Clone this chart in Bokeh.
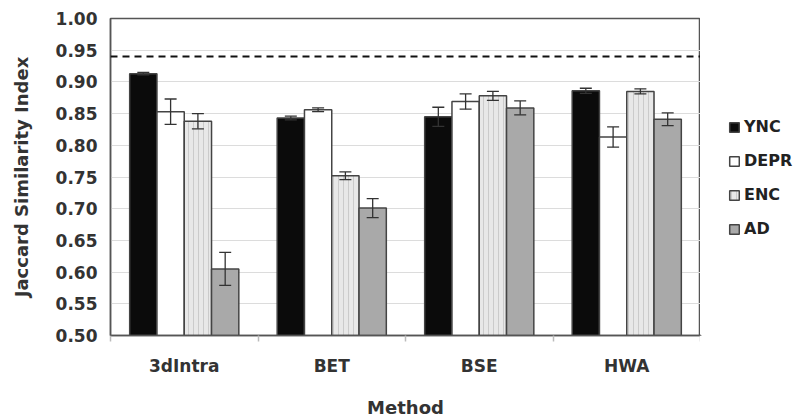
from bokeh.plotting import figure
from bokeh.layouts import row
from bokeh.models import (ColumnDataSource, Whisker, Span, Legend, LegendItem,
                          FixedTicker, TeeHead, NumeralTickFormatter)
from bokeh.embed import file_html
from bokeh.resources import INLINE

methods = ["3dIntra", "BET", "BSE", "HWA"]
groups = ["YNC", "DEPR", "ENC", "AD"]

ync = [0.913, 0.843, 0.845, 0.886]
ync_err = [0.002, 0.003, 0.015, 0.004]
depr = [0.853, 0.856, 0.869, 0.813]
depr_err = [0.020, 0.003, 0.012, 0.016]
enc = [0.838, 0.752, 0.878, 0.885]
enc_err = [0.012, 0.006, 0.007, 0.004]
ad = [0.605, 0.701, 0.859, 0.841]
ad_err = [0.026, 0.015, 0.011, 0.010]
reference_level = 0.94

y_ticks = [0.50, 0.55, 0.60, 0.65, 0.70, 0.75, 0.80, 0.85, 0.90, 0.95, 1.00]

series = [
    ("YNC", ync, ync_err, dict(fill_color="#0b0b0b")),
    ("DEPR", depr, depr_err, dict(fill_color="#ffffff")),
    ("ENC", enc, enc_err, dict(fill_color="#e8e8e8", hatch_pattern="|",
                               hatch_color="#c4c4c4", hatch_alpha=0.8, hatch_scale=5,
                               hatch_weight=1)),
    ("AD", ad, ad_err, dict(fill_color="#a9a9a9")),
]

FONT = "DejaVu Sans"
bar_w = 0.185
offsets = [-1.5 * bar_w, -0.5 * bar_w, 0.5 * bar_w, 1.5 * bar_w]

p = figure(width=700, height=420, x_range=(0, 4), y_range=(0.5, 1.0),
           output_backend="svg", toolbar_location=None,
           min_border_left=110, min_border_right=0, min_border_top=18,
           min_border_bottom=85)

p.outline_line_color = "#555555"
p.outline_line_width = 1.5
p.xgrid.grid_line_color = None
p.ygrid.grid_line_color = "#dcdcdc"
p.ygrid.grid_line_width = 1

p.yaxis.ticker = FixedTicker(ticks=y_ticks)
p.yaxis.formatter = NumeralTickFormatter(format="0.00")
centers = [i + 0.5 for i in range(len(methods))]
p.xaxis.ticker = FixedTicker(ticks=centers, minor_ticks=list(range(len(methods) + 1)))
p.xaxis.major_label_overrides = {c: m for c, m in zip(centers, methods)}

for ax in (p.xaxis, p.yaxis):
    ax.axis_line_color = "#555555"
    ax.axis_line_width = 1.5
    ax.major_tick_in = 0
    ax.major_tick_out = 0
    ax.minor_tick_in = 0
    ax.major_label_text_font = FONT
    ax.major_label_text_font_style = "bold"
    ax.major_label_text_font_size = "17px"
    ax.major_label_text_color = "#333333"
    ax.axis_label_text_font = FONT
    ax.axis_label_text_font_style = "bold"
    ax.axis_label_text_font_size = "18px"
    ax.axis_label_text_color = "#333333"

p.yaxis.minor_tick_out = 0
p.xaxis.minor_tick_out = 6
p.xaxis.minor_tick_line_color = "#bbbbbb"
p.xaxis.minor_tick_line_width = 1.5
p.xaxis.major_label_standoff = 14
p.xaxis.axis_label = "Method"
p.xaxis.axis_label_standoff = 18
p.yaxis.major_label_standoff = 13
p.yaxis.axis_label = "Jaccard Similarity Index"
p.yaxis.axis_label_standoff = 21

# separate narrow figure that only holds the legend
lg = figure(width=109, height=420, x_range=(0, 1), y_range=(0, 1),
            output_backend="svg", toolbar_location=None,
            x_axis_type=None, y_axis_type=None,
            min_border_left=0, min_border_right=0, min_border_top=18,
            min_border_bottom=85)
lg.outline_line_color = None
lg.xgrid.grid_line_color = None
lg.ygrid.grid_line_color = None

items = []
for (name, vals, errs, style), off in zip(series, offsets):
    src = ColumnDataSource(dict(
        x=[c + off for c in centers], top=vals,
        upper=[v + e for v, e in zip(vals, errs)],
        lower=[v - e for v, e in zip(vals, errs)]))
    p.vbar(x="x", top="top", bottom=0.5, width=bar_w, source=src,
           line_color="#444444", line_width=1.5, **style)
    w = Whisker(base="x", upper="upper", lower="lower", source=src, level="annotation",
                line_color="#333333", line_width=1.3,
                upper_head=TeeHead(size=12, line_color="#333333", line_width=1.3),
                lower_head=TeeHead(size=12, line_color="#333333", line_width=1.3))
    p.add_layout(w)
    # off-frame proxy renderer so the legend can draw a swatch
    dummy = lg.vbar(x=[-10], top=[-10], bottom=-11, width=0.1,
                    line_color="#444444", line_width=1.5, **style)
    items.append(LegendItem(label=name, renderers=[dummy]))

p.add_layout(Span(location=reference_level, dimension="width", line_color="#111111",
                  line_width=2, line_dash="7 5"))

legend = Legend(items=items, location=(28, 97), orientation="vertical",
                label_text_font=FONT, label_text_font_style="bold",
                label_text_font_size="16px", label_text_color="#222222",
                glyph_width=12, glyph_height=12, label_standoff=4,
                spacing=15, padding=0, margin=0,
                border_line_color=None, background_fill_alpha=0)
lg.add_layout(legend)

layout = row(p, lg, spacing=0)
open("out.html", "w").write(file_html(layout, INLINE))
